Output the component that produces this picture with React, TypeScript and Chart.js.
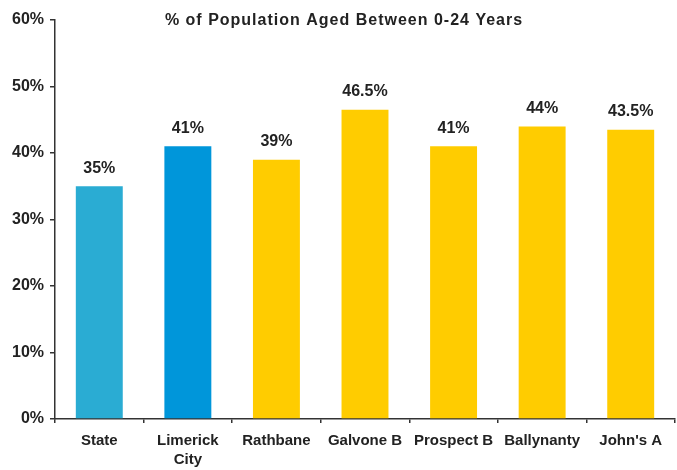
import React, { useEffect, useRef } from "react";
import { Chart, registerables } from "chart.js";

Chart.register(...registerables);

const categories: (string | string[])[] = ["State", ["Limerick", "City"], "Rathbane", "Galvone B", "Prospect B", "Ballynanty", "John's A"];
const values: number[] = [35, 41, 39, 46.5, 41, 44, 43.5];
const valueLabels: string[] = ["35%", "41%", "39%", "46.5%", "41%", "44%", "43.5%"];
const barColors: string[] = ["#2AACD3", "#0096DA", "#FFCC00", "#FFCC00", "#FFCC00", "#FFCC00", "#FFCC00"];
const titleText = "% of Population Aged Between 0-24 Years";

const FONT = "'Liberation Sans', Arial, sans-serif";

const labelPlugin = {
  id: "valueLabels",
  afterDatasetsDraw(chart: any) {
    const ctx = chart.ctx;
    const meta = chart.getDatasetMeta(0);
    ctx.save();
    ctx.font = `bold 16px ${FONT}`;
    ctx.fillStyle = "#222";
    ctx.textAlign = "center";
    ctx.textBaseline = "middle";
    meta.data.forEach((bar: any, i: number) => {
      ctx.fillText(valueLabels[i], bar.x, bar.y - 18);
    });
    ctx.font = `bold 16px ${FONT}`;
    try { (ctx as any).letterSpacing = "1px"; } catch (e) {}
    ctx.fillText(titleText, 344, chart.chartArea.top + 1);
    try { (ctx as any).letterSpacing = "0px"; } catch (e) {}
    ctx.restore();
  },
};

export default function App() {
  const ref = useRef<HTMLCanvasElement | null>(null);
  useEffect(() => {
    document.body.style.margin = "0";
    const chart = new Chart(ref.current as HTMLCanvasElement, {
      type: "bar",
      data: {
        labels: categories,
        datasets: [
          {
            data: values,
            backgroundColor: barColors,
            barPercentage: 0.53,
            categoryPercentage: 1,
          },
        ],
      },
      options: {
        animation: false,
        responsive: false,
        maintainAspectRatio: false,
        layout: { padding: { top: 20, right: 2, left: 0, bottom: 0 } },
        plugins: { legend: { display: false }, tooltip: { enabled: false } },
        scales: {
          x: {
            grid: { offset: true, drawOnChartArea: false, drawTicks: true, tickLength: 4, color: "#333", lineWidth: 1.5 },
            border: { color: "#333", width: 1.5 },
            ticks: { color: "#222", font: { family: FONT, weight: "bold", size: 15, lineHeight: 1.3 }, padding: 8, maxRotation: 0, autoSkip: false },
            afterFit: (s: any) => { s.height = 51; },
          },
          y: {
            min: 0,
            max: 60,
            grid: { drawOnChartArea: false, drawTicks: true, tickLength: 5, color: "#333", lineWidth: 1.5 },
            border: { color: "#333", width: 1.5 },
            ticks: { stepSize: 10, color: "#222", padding: 6, font: { family: FONT, weight: "bold", size: 16 }, callback: (v: any) => v + "%" },
            afterFit: (s: any) => { s.width = 55; },
          },
        },
      },
      plugins: [labelPlugin],
    });
    return () => chart.destroy();
  }, []);
  return <canvas ref={ref} width={677} height={470} style={{ display: "block" }} />;
}
